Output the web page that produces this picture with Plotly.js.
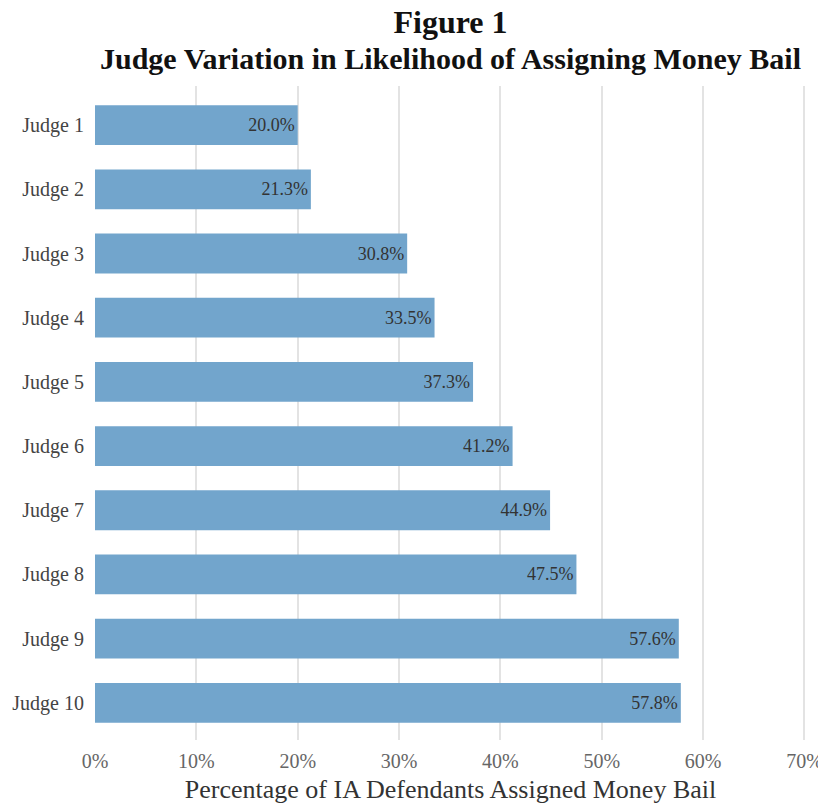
<!DOCTYPE html>
<html>
<head>
<meta charset="utf-8">
<script src="https://cdn.plot.ly/plotly-3.0.1.min.js"></script>
<style>
  html, body { margin: 0; padding: 0; background: #ffffff; }
  #chart { width: 818px; height: 808px; }
</style>
</head>
<body>
<div id="chart"></div>
<script>
// Share of initial-appearance defendants assigned money bail, per judge
const judges = ["Judge 1", "Judge 2", "Judge 3", "Judge 4", "Judge 5",
                "Judge 6", "Judge 7", "Judge 8", "Judge 9", "Judge 10"];
const moneyBailPct = [20.0, 21.3, 30.8, 33.5, 37.3, 41.2, 44.9, 47.5, 57.6, 57.8];
const xTickVals = [0, 10, 20, 30, 40, 50, 60, 70];
const xTickText = ["0%", "10%", "20%", "30%", "40%", "50%", "60%", "70%"];

const serif = "Liberation Serif, Times New Roman, serif";

const trace = {
  type: "bar",
  orientation: "h",
  x: moneyBailPct,
  y: judges,
  text: moneyBailPct.map(v => v.toFixed(1) + "%"),
  textposition: "inside",
  insidetextanchor: "end",
  textangle: 0,
  textfont: { family: serif, size: 18, color: "#333333" },
  constraintext: "none",
  marker: { color: "#72a5cc", line: { width: 0 } },
  hoverinfo: "none",
  cliponaxis: false
};

const layout = {
  width: 818,
  height: 808,
  margin: { l: 95, r: 12, t: 86, b: 68 },
  paper_bgcolor: "#ffffff",
  plot_bgcolor: "#ffffff",
  bargap: 0.38,
  showlegend: false,
  title: {
    text: "<b>Figure 1</b>",
    font: { family: serif, size: 32, color: "#111111" },
    x: 0.5, xref: "paper", xanchor: "center",
    y: 0.9728, yref: "container", yanchor: "middle"
  },
  annotations: [{
    text: "<b>Judge Variation in Likelihood of Assigning Money Bail</b>",
    xref: "paper", yref: "paper",
    x: 0.5, y: 1.0428, xanchor: "center", yanchor: "middle",
    showarrow: false,
    font: { family: serif, size: 30, color: "#111111" }
  }],
  xaxis: {
    range: [0, 70.15],
    tickvals: xTickVals,
    ticktext: xTickText,
    showgrid: true,
    gridcolor: "#e3e3e3",
    gridwidth: 2,
    zeroline: false,
    showline: false,
    ticks: "",
    ticklabelstandoff: 7,
    ticklabeloverflow: "allow",
    tickfont: { family: serif, size: 20, color: "#666666" },
    title: {
      text: "Percentage of IA Defendants Assigned Money Bail",
      font: { family: serif, size: 26, color: "#333333" },
      standoff: 8
    },
    fixedrange: true
  },
  yaxis: {
    type: "category",
    range: [9.58, -0.61],
    showgrid: false,
    zeroline: false,
    showline: false,
    ticks: "",
    ticklabelstandoff: 10,
    tickfont: { family: serif, size: 20, color: "#444444" },
    fixedrange: true
  }
};

Plotly.newPlot("chart", [trace], layout, { displayModeBar: false, staticPlot: true });
</script>
</body>
</html>
